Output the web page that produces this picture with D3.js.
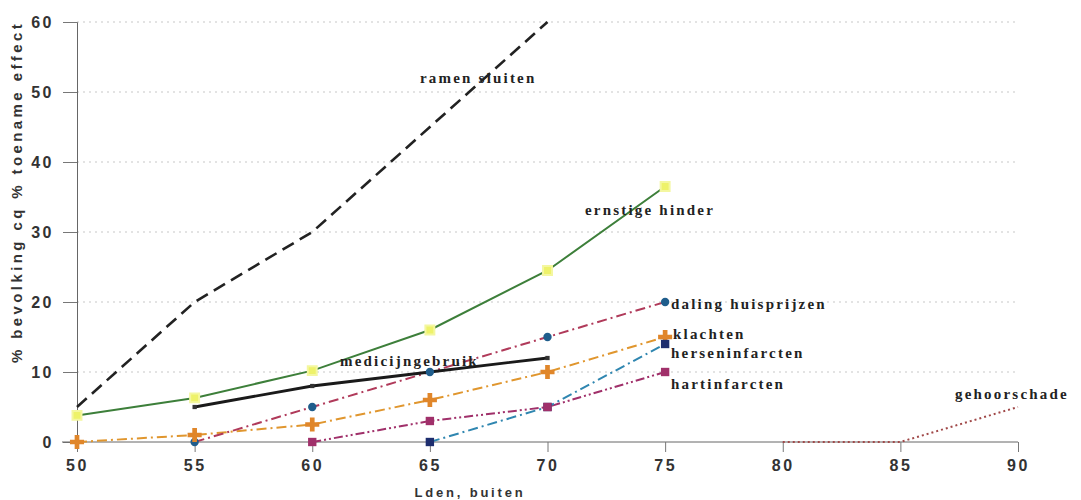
<!DOCTYPE html>
<html><head><meta charset="utf-8">
<script src="https://cdn.jsdelivr.net/npm/d3@7"></script>
<style>
body{margin:0;background:#fff;}
svg{display:block;}
.tick text{font-family:"Liberation Sans",Arial,sans-serif;font-weight:bold;font-size:16px;fill:#333;letter-spacing:2.5px;}
.lbl{font-family:"Liberation Serif","Times New Roman",serif;font-weight:bold;font-size:15px;fill:#222;letter-spacing:2.2px;}
</style></head>
<body>
<svg id="c" width="1081" height="500"></svg>
<script>
const xTicks = [50,55,60,65,70,75,80,85,90];
const yTicks = [0,10,20,30,40,50,60];
const ramenX = [50,55,60,65,70];           const ramenY = [5,20,30,45,60];
const hinderX = [50,55,60,65,70,75];       const hinderY = [3.8,6.3,10.2,16,24.5,36.5];
const medX = [55,60,65,70];                const medY = [5,8,10,12];
const huisX = [55,60,65,70,75];            const huisY = [0,5,10,15,20];
const klachtX = [50,55,60,65,70,75];       const klachtY = [0,1,2.5,6,10,15];
const hersenX = [65,70,75];                const hersenY = [0,5,14];
const hartX = [60,65,70,75];               const hartY = [0,3,5,10];
const gehoorX = [80,85,90];                const gehoorY = [0,0,5];

const svg = d3.select("#c");
const x = d3.scaleLinear().domain([50,90]).range([77,1018]);
const y = d3.scaleLinear().domain([0,60]).range([442,22]);

// grid
svg.append("g").selectAll("line").data(yTicks.filter(d=>d>0)).join("line")
  .attr("x1",x(50)).attr("x2",x(90)).attr("y1",d=>y(d)).attr("y2",d=>y(d))
  .attr("stroke","#c8c8c8").attr("stroke-width",1.2).attr("stroke-dasharray","2,4");

// axes
const yAxis = d3.axisLeft(y).tickValues(yTicks).tickSize(14).tickPadding(9).tickFormat(d3.format("d"));
const gy = svg.append("g").attr("transform",`translate(${x(50)},0)`).call(yAxis);
gy.select(".domain").attr("stroke","#666");
gy.selectAll(".tick line").attr("stroke","#777");
const xAxis = d3.axisBottom(x).tickValues(xTicks).tickSize(10).tickPadding(8).tickFormat(d3.format("d"));
const gx = svg.append("g").attr("transform",`translate(0,${y(0)})`).call(xAxis);
gx.select(".domain").attr("stroke","#666").attr("d",`M${x(50)-15},0H${x(90)}`);
gx.selectAll(".tick line").attr("stroke","#777");
gx.selectAll(".tick text").attr("dx","0");

// axis titles
svg.append("text").attr("x",470).attr("y",497).attr("text-anchor","middle")
  .style("font-family","Liberation Sans,Arial,sans-serif").style("font-weight","bold")
  .style("font-size","13px").style("letter-spacing","2.8px").attr("fill","#333").text("Lden, buiten");
svg.append("text").attr("transform","translate(22,192) rotate(-90)").attr("text-anchor","middle")
  .style("font-family","Liberation Sans,Arial,sans-serif").style("font-weight","bold")
  .style("font-size","15px").style("letter-spacing","3.4px").attr("fill","#333").text("% bevolking cq % toename effect");

const line = d3.line().x(d=>x(d[0])).y(d=>y(d[1]));
function series(xs, ys, color, width, dash){
  const pts = xs.map((v,i)=>[v,ys[i]]);
  svg.append("path").datum(pts).attr("d",line).attr("fill","none")
    .attr("stroke",color).attr("stroke-width",width).attr("stroke-dasharray",dash||null);
  return pts;
}
function markers(pts, type, size, fill, stroke, sw){
  svg.append("g").selectAll("path").data(pts).join("path")
    .attr("transform",d=>`translate(${x(d[0])},${y(d[1])})`)
    .attr("d",d3.symbol().type(type).size(size))
    .attr("fill",fill).attr("stroke",stroke||"none").attr("stroke-width",sw||0);
}

series(gehoorX, gehoorY, "#a04848", 2, "2,3");
const hart = series(hartX, hartY, "#a0306a", 2, "9,3,2,3,2,3");
const hersen = series(hersenX, hersenY, "#2f86b0", 2, "10,4,2,4");
const klacht = series(klachtX, klachtY, "#e0962e", 2, "10,4,2,4");
const huis = series(huisX, huisY, "#b03a5a", 2, "10,4,2,4");
const med = series(medX, medY, "#1a1a1a", 2.8);
const hinder = series(hinderX, hinderY, "#3d7f3a", 2);
series(ramenX, ramenY, "#222", 2.6, "13,7");

markers(hinder, d3.symbolSquare, 80, "#eef26a", "#f4f7a0", 2);
markers(med, d3.symbolSquare, 18, "#333");
markers(huis, d3.symbolCircle, 55, "#1f5d8c");
markers(klacht, d3.symbolCross, 110, "#e0862a");
markers(hersen, d3.symbolSquare, 70, "#1d2d6e");
markers(hart, d3.symbolSquare, 70, "#a0306a");

// labels
const labels = [
  ["ramen sluiten", 420, 83],
  ["ernstige hinder", 585, 215],
  ["daling huisprijzen", 671, 309],
  ["klachten", 673, 339],
  ["herseninfarcten", 671, 358],
  ["hartinfarcten", 671, 389],
  ["medicijngebruik", 340, 366],
  ["gehoorschade", 955, 399]
];
svg.append("g").selectAll("text").data(labels).join("text").attr("class","lbl")
  .attr("x",d=>d[1]).attr("y",d=>d[2]).text(d=>d[0]);
</script>
</body></html>
